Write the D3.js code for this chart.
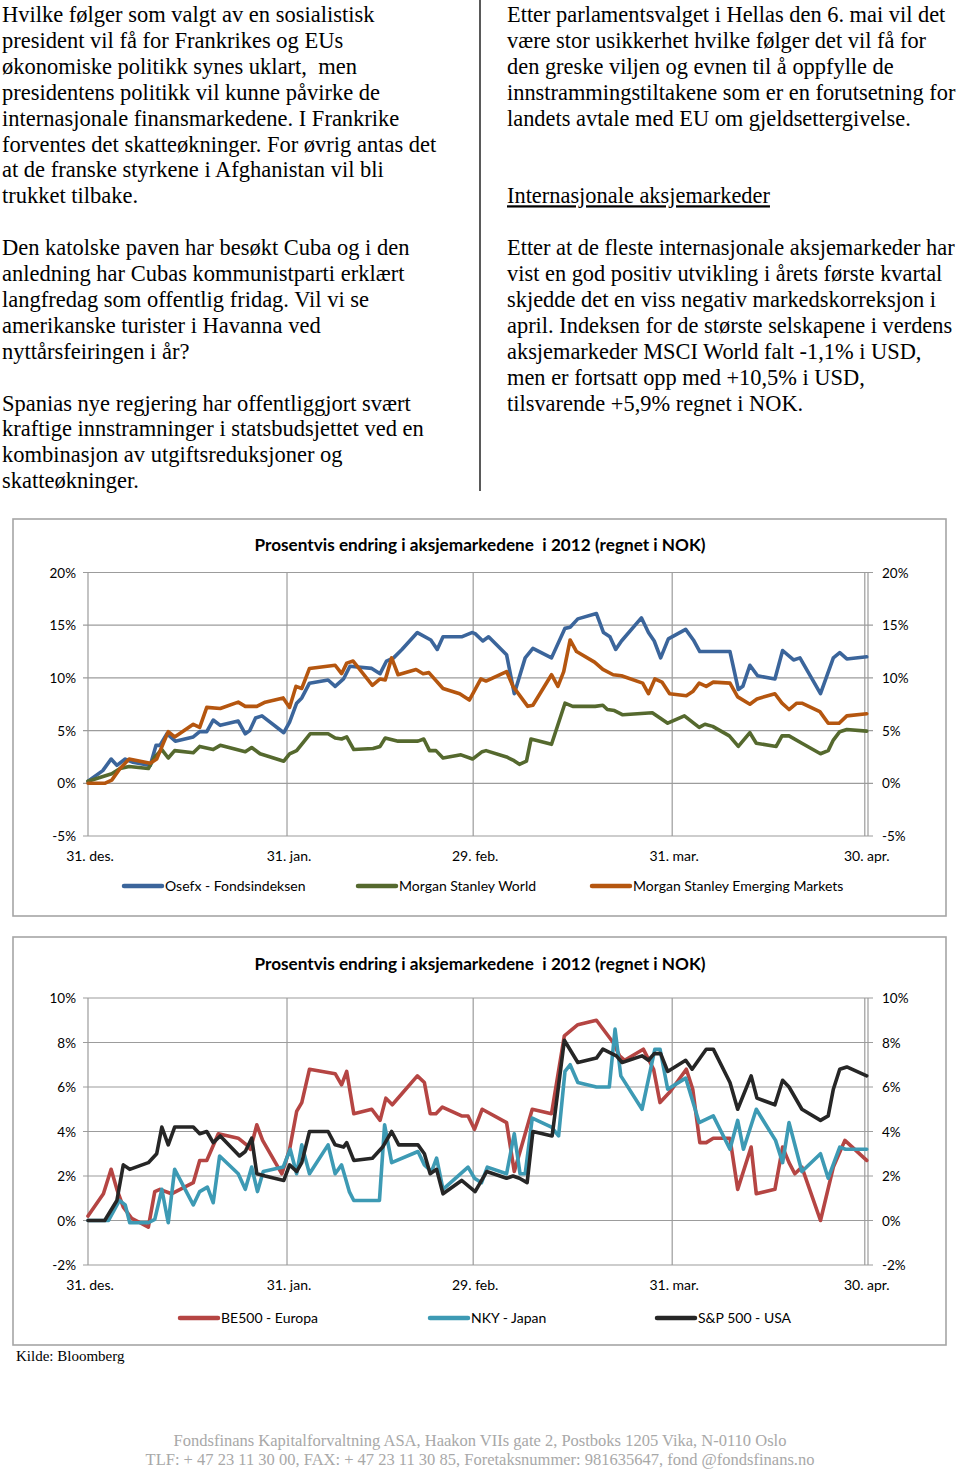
<!DOCTYPE html>
<html><head><meta charset="utf-8">
<script src="https://cdn.jsdelivr.net/npm/d3@7"></script>
<style>body{margin:0;background:#fff}svg{display:block}text{white-space:pre}</style>
</head><body>
<script>
// ---------- text content ----------
const leftText = [
  "Hvilke følger som valgt av en sosialistisk",
  "president vil få for Frankrikes og EUs",
  "økonomiske politikk synes uklart,  men",
  "presidentens politikk vil kunne påvirke de",
  "internasjonale finansmarkedene. I Frankrike",
  "forventes det skatteøkninger. For øvrig antas det",
  "at de franske styrkene i Afghanistan vil bli",
  "trukket tilbake.",
  "",
  "Den katolske paven har besøkt Cuba og i den",
  "anledning har Cubas kommunistparti erklært",
  "langfredag som offentlig fridag. Vil vi se",
  "amerikanske turister i Havanna ved",
  "nyttårsfeiringen i år?",
  "",
  "Spanias nye regjering har offentliggjort svært",
  "kraftige innstramninger i statsbudsjettet ved en",
  "kombinasjon av utgiftsreduksjoner og",
  "skatteøkninger."
];
const rightText = [
  "Etter parlamentsvalget i Hellas den 6. mai vil det",
  "være stor usikkerhet hvilke følger det vil få for",
  "den greske viljen og evnen til å oppfylle de",
  "innstrammingstiltakene som er en forutsetning for",
  "landets avtale med EU om gjeldsettergivelse.",
  "",
  "",
  "Internasjonale aksjemarkeder",
  "",
  "Etter at de fleste internasjonale aksjemarkeder har",
  "vist en god positiv utvikling i årets første kvartal",
  "skjedde det en viss negativ markedskorreksjon i",
  "april. Indeksen for de største selskapene i verdens",
  "aksjemarkeder MSCI World falt -1,1% i USD,",
  "men er fortsatt opp med +10,5% i USD,",
  "tilsvarende +5,9% regnet i NOK."
];
const underlinedRightLine = 7;
const sourceText = "Kilde: Bloomberg";
const footerText = [
  "Fondsfinans Kapitalforvaltning ASA, Haakon VIIs gate 2, Postboks 1205 Vika, N-0110 Oslo",
  "TLF: + 47 23 11 30 00, FAX: + 47 23 11 30 85, Foretaksnummer: 981635647, fond @fondsfinans.no"
];

// ---------- chart data (x = days since 31 Dec 2011, y = % change) ----------
const chartTitle = "Prosentvis endring i aksjemarkedene  i 2012 (regnet i NOK)";
const tickDays = [0, 31, 60, 91, 121];
const tickLabels = ["31. des.", "31. jan.", "29. feb.", "31. mar.", "30. apr."];
const chart1Ticks = [20, 15, 10, 5, 0, -5];
const chart2Ticks = [10, 8, 6, 4, 2, 0, -2];

const chart1Names = ["Osefx - Fondsindeksen", "Morgan Stanley World", "Morgan Stanley Emerging Markets"];
const osefx = [[0,0.2],[2.3,1.2],[3.6,2.3],[4.5,1.7],[5.8,2.3],[7,2.0],[9.7,1.7],[10.6,3.6],[11.2,3.6],[12.3,4.7],[13.6,4.0],[16.4,4.4],[17.4,4.9],[18.5,4.9],[19.5,6.0],[20.6,5.5],[23.4,5.9],[24.5,4.7],[25.2,5.0],[26.1,6.2],[27.1,6.4],[30.5,4.8],[31.4,5.8],[32.5,7.6],[33.3,8.1],[34.5,9.5],[37.4,9.8],[38.5,9.2],[39.8,9.9],[40.8,11.1],[44.2,10.9],[45.5,10.4],[46.5,11.6],[47.6,11.9],[48.9,12.7],[51.3,14.3],[53.4,13.6],[54.4,12.7],[55.3,13.9],[58.2,13.9],[59.8,14.3],[60.3,14.2],[61.5,13.5],[62.4,13.9],[65.2,12.2],[66.4,8.5],[68.1,11.9],[69.3,12.8],[72.2,11.9],[74.3,14.7],[75.1,14.8],[76.3,15.6],[79.2,16.1],[80.3,14.3],[81.3,13.9],[82.2,12.7],[83.1,13.5],[86.2,15.7],[87.3,14.3],[88.2,13.5],[89.2,11.9],[90.4,13.7],[93.1,14.6],[94.3,13.6],[95.3,12.5],[100,12.5],[101.3,8.9],[102,9.2],[103.1,11.2],[104.3,10.2],[107,9.9],[108.2,12.6],[109.9,11.7],[110.9,11.9],[114.1,8.5],[116.1,11.9],[117.1,12.4],[118.2,11.8],[121.3,12.0]];
const msWorld = [[0,0.2],[3.7,0.9],[5,1.4],[6.4,1.6],[9.4,1.4],[10.4,2.5],[11.5,3.2],[12.5,2.4],[13.5,3.1],[16.4,2.9],[17.4,3.5],[19.5,3.2],[20.6,3.6],[24.5,3.0],[25.5,3.4],[26.8,2.8],[30.5,2.1],[31.4,2.8],[32.5,3.1],[34.6,4.7],[37.4,4.7],[38.5,4.3],[39.5,4.2],[40.3,4.4],[41.4,3.2],[44.4,3.3],[45.5,3.5],[46.3,4.3],[48.3,4.0],[51.4,4.0],[52.3,4.2],[53.2,3.1],[54.2,3.1],[55.3,2.4],[58.1,2.7],[59.9,2.3],[61.4,3.0],[62,3.1],[65.2,2.5],[66.2,2.2],[67.2,1.8],[68.3,2.1],[69,4.2],[72.2,3.7],[74.3,7.6],[75.5,7.3],[79,7.3],[80.2,7.4],[80.9,7.0],[82,6.9],[83.3,6.5],[87.9,6.7],[90.3,5.7],[92.9,6.4],[95.2,5.3],[96.1,5.6],[97.3,5.4],[99.9,4.5],[101.3,3.5],[103.1,4.8],[104.1,3.8],[107.2,3.5],[108.1,4.5],[109.2,4.5],[111.2,3.8],[114.1,2.8],[115.3,3.1],[116.1,4.1],[117.1,4.9],[118.2,5.1],[121.3,4.95]];
const msEmerging = [[0,0],[2.6,0],[3.7,0.3],[5,1.4],[6.4,2.3],[9.7,1.9],[10.7,2.3],[12.5,4.9],[13.5,4.4],[16.4,5.6],[17.4,5.3],[18.5,7.2],[20.6,7.1],[23.4,7.7],[24.5,7.3],[26.3,7.3],[27.6,7.7],[30.4,8.1],[31.4,7.2],[32.4,9.2],[33.3,9.0],[34.5,10.9],[38.5,11.2],[39.5,10.4],[40.3,11.4],[41.3,11.6],[44.3,9.3],[45.5,9.9],[46.3,9.8],[47.3,11.9],[48.3,10.3],[51.1,10.8],[52.2,10.4],[53.1,10.5],[55.3,9.0],[57.9,8.5],[59.4,7.9],[61.2,9.9],[62,9.7],[65.2,10.6],[66.2,9.2],[68.5,7.3],[69.3,7.4],[72.2,10.3],[73.2,9.2],[74.1,10.6],[75.1,13.6],[76.1,12.5],[78.9,11.5],[80.2,10.8],[81.8,10.3],[83.1,10.2],[86.4,9.5],[87.3,8.5],[88.3,9.9],[89.4,9.6],[90.6,8.5],[93.2,8.3],[94.2,8.7],[95.2,9.5],[96.3,9.2],[97.4,9.6],[100,9.5],[101.2,8.2],[103.1,7.5],[104.2,8.0],[107,8.5],[108.1,7.6],[109.2,7.0],[110.4,7.6],[111.2,7.6],[114,6.8],[115.3,5.7],[117,5.7],[118.2,6.4],[121.3,6.6]];

const chart2Names = ["BE500 - Europa", "NKY - Japan", "S&P 500 - USA"];
const be500 = [[0,0.2],[2.4,1.2],[3.6,2.3],[4.5,1.4],[5.5,0.6],[6.8,0.1],[9.4,-0.3],[10.4,1.3],[11.2,1.4],[13,1.2],[16.4,1.7],[17.4,2.7],[18.5,2.7],[20.3,3.9],[23.4,3.7],[24.7,3.4],[25.3,3.2],[26.3,4.3],[27.2,3.6],[30.2,2.1],[31.4,3.2],[32.5,4.9],[33.3,5.3],[34.5,6.8],[38.5,6.6],[39.5,6.1],[40.3,6.7],[41.4,4.8],[44.2,5.0],[45.5,4.5],[46.4,5.5],[47.4,5.2],[51.3,6.5],[52.4,6.2],[53.3,4.8],[54.2,4.8],[55.2,5.1],[58.2,4.7],[59.2,4.7],[60.2,4.1],[61.4,5.0],[65.2,4.4],[66.4,2.2],[69.2,5.0],[72.2,4.8],[74.2,8.3],[76.3,8.8],[79.2,9.0],[81.8,8.0],[82.8,7.4],[83.6,7.2],[86.5,7.7],[88.1,6.8],[89.1,5.3],[90.7,5.8],[93.2,6.8],[94.2,5.9],[95.3,3.5],[96.3,3.5],[97.4,3.7],[100,3.7],[101.2,1.4],[103.3,3.3],[104.1,1.2],[107,1.4],[108.2,3.3],[109.2,2.6],[110.1,2.1],[111.2,2.4],[114.1,0.0],[116.1,2.4],[117.9,3.6],[121.3,2.7]];
const nky = [[0,0],[3.2,0],[4.9,0.9],[5.8,0.7],[6.5,-0.1],[9.4,-0.1],[10.4,0.05],[11.5,1.4],[12.5,-0.1],[13.5,2.3],[16.4,0.7],[17.4,1.3],[18.6,1.5],[19.5,0.8],[20.5,2.9],[23.4,2.1],[24.5,1.4],[25.5,2.4],[26.4,1.3],[27.3,2.2],[30.4,2.4],[31.5,3.2],[32.5,2.1],[33.3,3.4],[34.5,2.1],[37.4,3.4],[38.5,2.1],[39.5,2.5],[40.7,1.3],[41.4,0.9],[45.4,0.9],[46.2,4.3],[47.3,2.6],[51.4,3.1],[52.4,2.5],[53.5,2.2],[54.3,2.8],[55.3,1.4],[59.2,2.4],[60.2,1.9],[61.3,1.7],[62.2,2.4],[65.2,2.1],[66.4,3.9],[67.3,2.1],[68.1,2.1],[69.2,4.6],[72.2,4.2],[73.3,3.8],[74.3,6.7],[75.1,7.0],[76.3,6.2],[79.2,6.0],[81.2,6.0],[82.1,8.6],[83,6.5],[86.3,5.0],[88.3,7.7],[89.1,7.7],[90.3,5.9],[93.1,6.4],[95.2,4.4],[97.4,4.7],[100,3.2],[101.2,4.5],[102.1,3.2],[104.1,5.0],[107.1,3.6],[108.2,2.6],[109.2,4.4],[111.2,2.2],[114.1,3.0],[115.3,1.9],[117.1,3.3],[118,3.2],[121.3,3.2]];
const sp500 = [[0,0],[2.6,0],[4.5,0.9],[5.5,2.5],[6.5,2.3],[9.4,2.6],[10.7,3.0],[11.5,4.2],[12.5,3.4],[13.5,4.2],[16.4,4.2],[17.4,3.9],[18.5,4.0],[19.5,3.5],[20.6,3.8],[23.6,2.9],[24.5,3.1],[25.5,3.7],[26.3,2.1],[27.6,2.0],[30.5,1.8],[31.4,2.5],[32.5,2.2],[33.3,2.6],[34.5,4.0],[37.4,4.0],[38.5,3.4],[39.8,3.3],[40.3,3.5],[41.4,2.7],[44.3,2.8],[45.9,3.3],[47.3,4.0],[48.4,3.4],[51.4,3.4],[52.4,3.0],[53.3,2.1],[54.3,2.3],[55.3,1.2],[58.2,1.8],[60.3,1.3],[62.1,2.2],[65.2,1.9],[66.2,2.0],[67.2,1.9],[68.4,1.7],[69.3,4.0],[72.3,3.8],[74.2,8.1],[76.3,7.1],[79.2,7.3],[80.2,7.7],[82.3,7.4],[83.2,7.1],[86.3,7.4],[87.3,7.2],[88.2,7.5],[89.2,7.5],[90.3,6.7],[93.1,7.2],[94.1,6.8],[96.3,7.7],[97.4,7.7],[100,6.2],[101.2,5.0],[103.3,6.5],[104.2,5.5],[107,5.2],[108.2,6.3],[109.2,6.0],[111.2,5.0],[114.1,4.5],[115.3,4.7],[116.1,5.9],[117.1,6.8],[118.2,6.9],[121.3,6.5]];

const chart1Colors = ["#3b659b", "#55692e", "#b5560f"];
const chart2Colors = ["#b54543", "#3d9ab4", "#262626"];

// ---------- drawing ----------
const W = 960, H = 1469;
const svg = d3.select("body").append("svg").attr("width", W).attr("height", H);

const serif = "'Liberation Serif','Times New Roman',serif";
const sans = "Lato, 'Open Sans', sans-serif";
const lineH = 25.9;

// divider
svg.append("line").attr("x1", 480).attr("x2", 480).attr("y1", 0).attr("y2", 491)
  .attr("stroke", "#000").attr("stroke-width", 1.3);

svg.append("g").selectAll("text").data(leftText).join("text")
  .attr("x", 2).attr("y", (d, i) => 22 + i * lineH)
  .attr("font-family", serif).attr("font-size", 22.5).attr("fill", "#000")
  .text(d => d);

svg.append("g").selectAll("text").data(rightText).join("text")
  .attr("x", 507).attr("y", (d, i) => 22 + i * lineH)
  .attr("font-family", serif).attr("font-size", 22.4).attr("fill", "#000")
  .attr("text-decoration", (d, i) => i === underlinedRightLine ? "underline" : null)
  .text(d => d);

function drawChart(cfg) {
  const g = svg.append("g");
  const x = d3.scaleLinear().domain([0, 121.5]).range([88, 868]);
  const y = d3.scaleLinear().domain(cfg.yDomain).range(cfg.yRange);
  // frame
  g.append("rect").attr("x", cfg.box[0]).attr("y", cfg.box[1])
    .attr("width", cfg.box[2]).attr("height", cfg.box[3])
    .attr("fill", "#fff").attr("stroke", "#a6a6a6").attr("stroke-width", 1.6);
  // title
  g.append("text").attr("x", 480).attr("y", cfg.titleY).attr("text-anchor", "middle")
    .attr("font-family", sans).attr("font-weight", "bold").attr("font-size", 17)
    .attr("textLength", 451).attr("lengthAdjust", "spacingAndGlyphs")
    .attr("fill", "#000").text(chartTitle);
  const grid = "#9c9c9c";
  // horizontal gridlines
  g.append("g").selectAll("line").data(cfg.ticks).join("line")
    .attr("x1", 83).attr("x2", 873)
    .attr("y1", d => y(d)).attr("y2", d => y(d))
    .attr("stroke", grid).attr("stroke-width", 1.2);
  // vertical gridlines
  g.append("g").selectAll("line").data(tickDays.slice(1)).join("line")
    .attr("x1", d => x(d)).attr("x2", d => x(d))
    .attr("y1", y(cfg.yDomain[1])).attr("y2", y(cfg.yDomain[0]))
    .attr("stroke", grid).attr("stroke-width", 1.2);
  // axes lines
  [x.range()[0], x.range()[1]].forEach(px => {
    g.append("line").attr("x1", px).attr("x2", px)
      .attr("y1", y(cfg.yDomain[1])).attr("y2", y(cfg.yDomain[0]))
      .attr("stroke", grid).attr("stroke-width", 1.2);
  });
  // y labels
  g.append("g").selectAll("text").data(cfg.ticks).join("text")
    .attr("x", 76).attr("y", d => y(d) + 5).attr("text-anchor", "end")
    .attr("font-family", sans).attr("font-size", 13.5).attr("fill", "#000")
    .text(d => d + "%");
  g.append("g").selectAll("text").data(cfg.ticks).join("text")
    .attr("x", 882).attr("y", d => y(d) + 5)
    .attr("font-family", sans).attr("font-size", 13.5).attr("fill", "#000")
    .text(d => d + "%");
  // x labels
  g.append("g").selectAll("text").data(tickDays).join("text")
    .attr("x", d => x(d) + 2).attr("y", y(cfg.yDomain[0]) + 25)
    .attr("text-anchor", "middle")
    .attr("font-family", sans).attr("font-size", 14).attr("fill", "#000")
    .text((d, i) => tickLabels[i]);
  // series
  const line = d3.line().x(d => x(d[0])).y(d => y(d[1]));
  cfg.series.forEach((s, i) => {
    g.append("path").datum(s).attr("d", line).attr("fill", "none")
      .attr("stroke", cfg.colors[i]).attr("stroke-width", 3.6)
      .attr("stroke-linejoin", "round").attr("stroke-linecap", "round");
  });
  // legend
  cfg.names.forEach((n, i) => {
    const lx = cfg.legendX[i];
    g.append("line").attr("x1", lx).attr("x2", lx + 38)
      .attr("y1", cfg.legendY).attr("y2", cfg.legendY)
      .attr("stroke", cfg.colors[i]).attr("stroke-width", 4.5).attr("stroke-linecap", "round");
    g.append("text").attr("x", lx + 41).attr("y", cfg.legendY + 5)
      .attr("font-family", sans).attr("font-size", 14).attr("fill", "#000").text(n);
  });
}

drawChart({
  box: [13, 519, 933, 397], titleY: 551,
  yDomain: [-5, 20], yRange: [836, 572.5], ticks: chart1Ticks,
  series: [osefx, msWorld, msEmerging], colors: chart1Colors, names: chart1Names,
  legendX: [124, 358, 592], legendY: 886
});
drawChart({
  box: [13, 937, 933, 408], titleY: 970,
  yDomain: [-2, 10], yRange: [1265, 998], ticks: chart2Ticks,
  series: [be500, nky, sp500], colors: chart2Colors, names: chart2Names,
  legendX: [180, 430, 657], legendY: 1318
});

svg.append("text").attr("x", 16).attr("y", 1361)
  .attr("font-family", serif).attr("font-size", 15).attr("fill", "#000").text(sourceText);

svg.append("g").selectAll("text").data(footerText).join("text")
  .attr("x", 480).attr("y", (d, i) => 1446 + i * 18.5).attr("text-anchor", "middle")
  .attr("font-family", serif).attr("font-size", 16.5).attr("fill", "#a8a8a8")
  .text(d => d);
</script>
</body></html>
